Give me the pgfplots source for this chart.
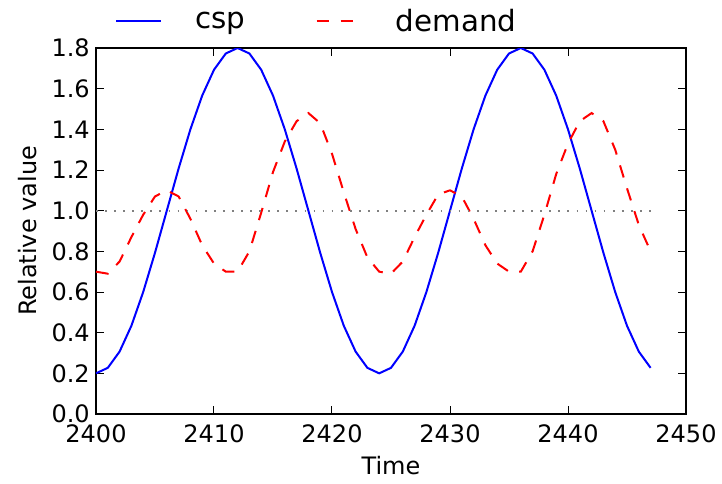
\documentclass[border=0pt]{standalone}
\usepackage{fontspec}
\setmainfont{DejaVu Sans}
\usepackage{pgfplots}
\pgfplotsset{compat=1.18}
\usepackage{pgfplotstable}

\pgfplotstableread{
t csp demand
2400 0.200 0.70
2401 0.227 0.69
2402 0.307 0.75
2403 0.434 0.87
2404 0.600 0.98
2405 0.793 1.07
2406 1.000 1.10
2407 1.207 1.07
2408 1.400 0.96
2409 1.566 0.83
2410 1.693 0.74
2411 1.773 0.70
2412 1.800 0.70
2413 1.773 0.80
2414 1.693 0.99
2415 1.566 1.19
2416 1.400 1.34
2417 1.207 1.44
2418 1.000 1.48
2419 0.793 1.43
2420 0.600 1.28
2421 0.434 1.09
2422 0.307 0.91
2423 0.227 0.77
2424 0.200 0.70
2425 0.227 0.69
2426 0.307 0.75
2427 0.434 0.87
2428 0.600 0.98
2429 0.793 1.08
2430 1.000 1.10
2431 1.207 1.07
2432 1.400 0.96
2433 1.566 0.83
2434 1.693 0.74
2435 1.773 0.70
2436 1.800 0.70
2437 1.773 0.80
2438 1.693 0.98
2439 1.566 1.18
2440 1.400 1.33
2441 1.207 1.44
2442 1.000 1.48
2443 0.793 1.44
2444 0.600 1.30
2445 0.434 1.11
2446 0.307 0.93
2447 0.227 0.80
}\datatable

\pgfplotstableread{
t v
2400 1.0
2447 1.0
}\refline

\begin{document}
\begin{tikzpicture}
\begin{axis}[
  at={(0pt,0pt)}, anchor=south west,
  scale only axis, width=442.5pt, height=274.5pt,
  xmin=2400, xmax=2450, ymin=0, ymax=1.8,
  xtick={2400,2410,2420,2430,2440,2450},
  ytick={0,0.2,0.4,0.6,0.8,1.0,1.2,1.4,1.6,1.8},
  tick align=inside, tick pos=both,
  major tick length=6pt,
  major tick style={line width=0.75pt, black},
  axis line style={line width=2pt},
  /pgf/number format/assume math mode=true,
  xticklabel style={/pgf/number format/1000 sep={}, anchor=base, inner sep=0pt, yshift=-21pt},
  yticklabel style={/pgf/number format/fixed, /pgf/number format/precision=1, /pgf/number format/fixed zerofill, anchor=east, inner sep=0pt, xshift=-4.5pt},
  tick label style={font=\fontsize{18}{21.6}\selectfont},
  xlabel={Time},
  ylabel={Relative value},
  every axis x label/.style={at={(axis description cs:0.5,0)}, anchor=center, yshift=-39pt, font=\fontsize{18}{21.6}\selectfont},
  every axis y label/.style={at={(axis description cs:-0.1153,0.5)}, rotate=90, anchor=center, font=\fontsize{18}{21.6}\selectfont},
  legend columns=2,
  legend image code/.code={\draw[#1] (0pt,0pt) -- (34pt,0pt);},
  legend style={draw=none, fill=none, inner sep=0pt,
    at={(rel axis cs:0.032,1)}, anchor=west, yshift=20.25pt,
    font=\fontsize{22}{26}\selectfont,
    nodes={inner sep=0pt},
    /tikz/every odd column/.append style={column sep=24.75pt},
    /tikz/every even column/.append style={column sep=52.5pt}},
]
\addplot[blue, line width=1.5pt] table[x=t, y=csp] {\datatable};
\addlegendentry{csp}
\addplot[red, line width=1.5pt, dash pattern=on 9.5pt off 8.5pt] table[x=t, y=demand] {\datatable};
\addlegendentry{demand}
\addplot[gray, line width=1.3pt, dash pattern=on 1.3pt off 5.5pt, forget plot] table[x=t, y=v] {\refline};
\end{axis}
\pgfresetboundingbox
\path (-72pt,-51.75pt) rectangle (469.5pt,310.5pt);
\end{tikzpicture}
\end{document}
